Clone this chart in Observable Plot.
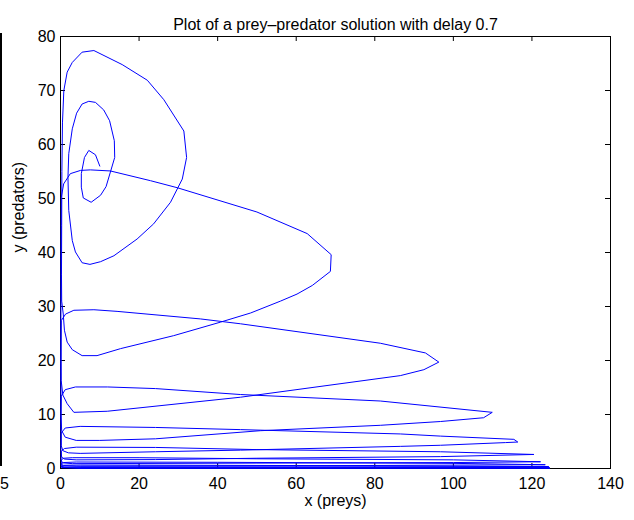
<!DOCTYPE html>
<html>
<head>
<meta charset="utf-8">
<script src="https://cdn.jsdelivr.net/npm/d3@7"></script>
<script src="https://cdn.jsdelivr.net/npm/@observablehq/plot@0.6"></script>
<style>
  html, body { margin: 0; padding: 0; background: white; }
  #wrap { position: relative; width: 634px; height: 520px; overflow: hidden; }
  #edge { position: absolute; left: 0px; top: 33px; width: 2px; height: 433px; background: black; }
  #five { position: absolute; left: 0px; top: 475px; font: 16px "Liberation Sans", Arial, sans-serif; color: black; }
</style>
</head>
<body>
<div id="wrap"><div id="chart"></div><div id="edge"></div><div id="five">5</div></div>
<script>
const titleText = "Plot of a prey–predator solution with delay 0.7";
const xLabel = "x (preys)";
const yLabel = "y (predators)";
const xTicks = [0, 20, 40, 60, 80, 100, 120, 140];
const yTicks = [0, 10, 20, 30, 40, 50, 60, 70, 80];

// trajectory, in time order (prey x, predators y)
const prey = [
  10, 8.9, 7.2, 6.1, 5.3, 5.3, 5.8, 7.8, 10.2, 11.6, 12.7, 13.8, 13.7, 12.5, 11, 8.9, 7.2, 5.5, 4.1, 3, 2.1, 1.9, 2.1, 3, 3.8, 5.5, 7.5, 10.2, 13.6, 19.5, 23.7, 28, 31, 32.1, 31.4, 26.3, 22.1, 15.7, 8.5, 5.5, 3, 1.7, 0.85,
  0.5, 0.35, 0.3, 0.25, 0.3, 0.7, 1, 1.7, 3, 5.5, 9.3, 15.3, 28.8, 40.7, 48.4, 56, 60.2, 64.1, 68.7, 68.9, 62.8, 50, 29.7, 22.9, 12.7, 7.6, 5.1, 2.5, 0.8, 0.2,
  0.12, 0.1, 0.17, 0.6, 1.7, 3.4, 11.9, 45.8, 86.5, 92.5, 96.3, 92.9, 81.4, 45.8, 35.6, 14.4, 8.5, 3.4, 1.3, 0.2,
  0.1, 0.12, 0.3, 1.2, 4, 10, 24.2, 50.9, 81.4, 96.7, 107.7, 109.9, 81.4, 45.8, 24.2, 12, 3.8, 1.2, 0.2,
  0.1, 0.2, 0.6, 2, 5, 24.2, 45.8, 86.5, 96.7, 113.3, 116.4, 115.4, 96.7, 86.5, 45.8, 24.2, 5, 1.2, 0.2,
  0.1, 0.3, 1, 4, 24.2, 50, 96.7, 120.5, 96.7, 50, 24.2, 4, 1, 0.2,
  0.15, 0.5, 3, 50, 100, 122.2, 100, 50, 20, 3, 0.8, 0.2,
  0.2, 0.8, 4, 60, 123.4, 100, 40, 4, 0.8, 0.2,
  0.2, 1, 5, 124.3, 60, 5, 0.8, 0.2,
  0.3, 5, 124.5, 5, 0.3,
  5, 124.6, 5
];
const predators = [
  56, 58.1, 58.9, 57.6, 54.6, 52.1, 50.1, 49.3, 50.6, 52.2, 54.9, 57.6, 60.7, 64.4, 66.4, 67.8, 68, 67.5, 65.8, 62.9, 58.3, 53.9, 47.8, 42.2, 40.1, 38.1, 37.8, 38.3, 39.4, 42.5, 45.3, 49.3, 53.6, 57.6, 62.5, 68.3, 71.9, 74.8, 77.4, 77.1, 75.2, 73.4, 70,
  64, 55, 45, 36, 31, 28.6, 25.6, 23.4, 22, 20.9, 20.9, 22.2, 24.6, 27.1, 28.8, 31, 32.3, 33.9, 36.5, 39.6, 43.5, 47.5, 52, 53.3, 55.1, 55.3, 55.2, 54.6, 52.7, 50.2,
  40, 28, 16.3, 13.6, 12, 10.4, 10.6, 13.2, 17.2, 18.3, 19.7, 21.4, 23.2, 26.8, 27.7, 29.1, 29.4, 29.3, 28.6, 27.4,
  20, 10, 7, 5.8, 5.2, 5.2, 5.5, 7.0, 8.0, 8.7, 9.4, 10.4, 12.5, 13.7, 14.8, 15.1, 15.1, 14.6, 13.4,
  8, 4.2, 3.3, 2.9, 2.8, 3.1, 3.4, 4.1, 4.3, 4.8, 4.9, 5.4, 6.0, 6.4, 7.2, 7.6, 7.8, 7.5, 6.6,
  3.5, 2.1, 1.75, 1.6, 1.65, 1.9, 2.2, 2.6, 3.1, 3.5, 3.9, 3.95, 3.7, 3.2,
  1.6, 1.05, 0.9, 1.0, 1.1, 1.25, 1.6, 1.8, 2.0, 2.0, 1.9, 1.6,
  0.8, 0.55, 0.45, 0.5, 0.7, 0.95, 1.15, 1.2, 1.1, 0.9,
  0.4, 0.25, 0.2, 0.35, 0.55, 0.65, 0.6, 0.45,
  0.15, 0.08, 0.15, 0.32, 0.25,
  0.03, 0.06, 0.14
];

const pts = prey.map((x, i) => ({x, y: predators[i]}));

const W = 634, H = 520, mL = 60, mR = 24, mT = 36, mB = 52;
const fw = W - mL - mR, fh = H - mT - mB, tl = 5;
const font = "'Liberation Sans', Arial, Helvetica, sans-serif";

const chart = Plot.plot({
  width: W, height: H,
  marginLeft: mL, marginRight: mR, marginTop: mT, marginBottom: mB,
  style: {fontFamily: font, fontSize: "16px", color: "black", background: "white", overflow: "visible"},
  x: {domain: [0, 140]},
  y: {domain: [0, 80]},
  marks: [
    Plot.frame({stroke: "black", strokeWidth: 1}),
    Plot.tickX(xTicks, {x: d => d, insetTop: fh - tl, stroke: "black"}),
    Plot.tickX(xTicks, {x: d => d, insetBottom: fh - tl, stroke: "black"}),
    Plot.tickY(yTicks, {y: d => d, insetRight: fw - tl, stroke: "black"}),
    Plot.tickY(yTicks, {y: d => d, insetLeft: fw - tl, stroke: "black"}),
    Plot.axisX({ticks: xTicks, tickSize: 0, tickPadding: 9, fontSize: 16, label: null}),
    Plot.axisY({ticks: yTicks, tickSize: 0, tickPadding: 5, fontSize: 16, label: null}),
    Plot.line(pts, {x: "x", y: "y", stroke: "#0000ff", strokeWidth: 1}),
    Plot.text([xLabel], {frameAnchor: "bottom", dy: 37, fontSize: 16, fill: "black"}),
    Plot.text([yLabel], {frameAnchor: "left", rotate: -90, dx: -42, fontSize: 16, fill: "black"}),
    Plot.text([titleText], {frameAnchor: "top", dy: -18, fontSize: 16, fill: "black"})
  ]
});
document.getElementById("chart").appendChild(chart);
</script>
</body>
</html>
